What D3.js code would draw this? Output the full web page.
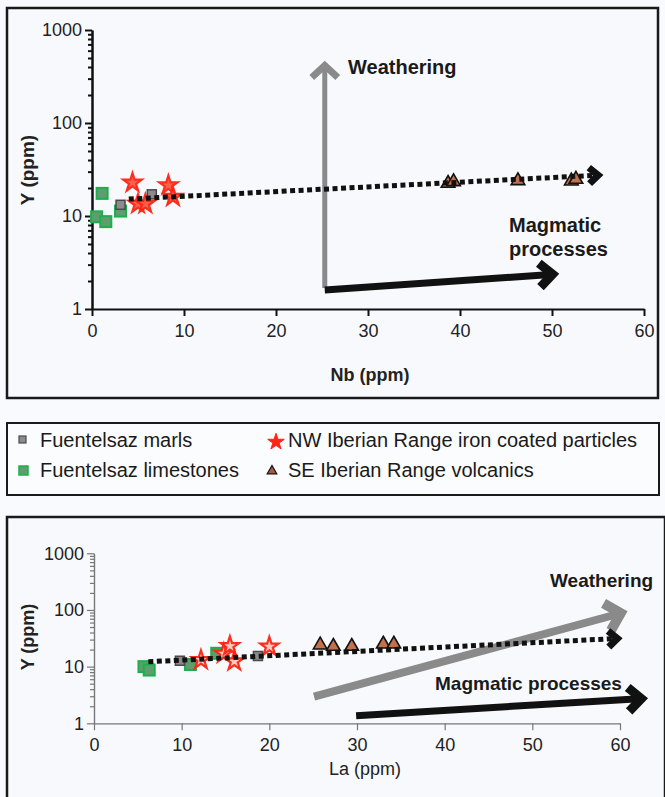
<!DOCTYPE html>
<html>
<head>
<meta charset="utf-8">
<script src="https://cdn.jsdelivr.net/npm/d3@7"></script>
<style>
  body { margin: 0; background: #f9fafd; }
  svg { display: block; font-family: "Liberation Sans", Arial, sans-serif; }
</style>
</head>
<body>
<svg id="chart" width="665" height="797"></svg>
<script>
// ---- data: Nb vs Y (top panel)
var nbMarlsX = [3.1, 6.5];
var nbMarlsY = [13.2, 17.1];
var nbLimeX = [0.5, 1.1, 1.5, 3.1];
var nbLimeY = [9.8, 17.5, 8.7, 11.3];
var nbStarX = [4.4, 5.0, 5.8, 8.3, 8.8];
var nbStarY = [22.8, 13.5, 13.5, 21.4, 16.1];
var nbVolcX = [38.7, 39.3, 46.3, 52.1, 52.6];
var nbVolcY = [21.9, 22.8, 23.4, 23.2, 24.2];

// ---- data: La vs Y (bottom panel)
var laMarlsX = [9.8, 18.7];
var laMarlsY = [12.7, 15.4];
var laLimeX = [5.7, 6.3, 11.0, 14.0];
var laLimeY = [10.0, 8.7, 10.9, 17.2];
var laStarX = [12.2, 14.8, 15.5, 16.0, 20.0];
var laStarY = [13.1, 17.0, 23.1, 12.4, 22.6];
var laVolcX = [25.8, 27.3, 29.4, 33.0, 34.2];
var laVolcY = [23.1, 21.9, 21.9, 24.0, 24.0];

// trend / process arrows, [x0, y0, x1, y1] in data units
var nbTrend = [4.0, 15.2, 55.4, 27.6];
var nbWeather = [25.3, 1.68, 25.3, 453];
var nbMagma = [25.3, 1.6, 50.6, 2.38];
var laTrend = [6.2, 12.2, 60.1, 31.6];
var laWeather = [25.1, 2.95, 60.7, 93];
var laMagma = [29.9, 1.36, 63, 2.76];

var xTicks = [0, 10, 20, 30, 40, 50, 60];
var yTicks = [1, 10, 100, 1000];
var legendNames = ["Fuentelsaz marls", "NW Iberian Range iron coated particles",
                   "Fuentelsaz limestones", "SE Iberian Range volcanics"];

var svg = d3.select("#chart");

function zip(xs, ys) { return xs.map(function(v, i) { return [v, ys[i]]; }); }

var minorTicks = [];
[1, 10, 100].forEach(function(dec) {
  for (var k = 2; k <= 9; k++) minorTicks.push(dec * k);
});

function arrow(g, x, y, a, color, w, hl, hw, dash) {
  var p0 = [x(a[0]), y(a[1])], p1 = [x(a[2]), y(a[3])];
  var dx = p1[0] - p0[0], dy = p1[1] - p0[1], len = Math.sqrt(dx*dx + dy*dy);
  var ux = dx / len, uy = dy / len, nx = -uy, ny = ux;
  var tip = [p1[0] - ux * w * 0.7, p1[1] - uy * w * 0.7];
  g.append("line")
    .attr("x1", p0[0]).attr("y1", p0[1])
    .attr("x2", tip[0] - ux * 2).attr("y2", tip[1] - uy * 2)
    .attr("stroke", color).attr("stroke-width", w)
    .attr("stroke-dasharray", dash || null);
  g.append("path")
    .attr("d", "M" + (tip[0] - ux*hl + nx*hw) + "," + (tip[1] - uy*hl + ny*hw) +
               "L" + tip[0] + "," + tip[1] +
               "L" + (tip[0] - ux*hl - nx*hw) + "," + (tip[1] - uy*hl - ny*hw))
    .attr("fill", "none").attr("stroke", color)
    .attr("stroke-width", w + 2).attr("stroke-linejoin", "miter").attr("stroke-miterlimit", 10);
}

function points(g, x, y, d) {
  g.selectAll(".lime").data(zip(d.limeX, d.limeY)).join("rect")
    .attr("x", function(p) { return x(p[0]) - 5.5; })
    .attr("y", function(p) { return y(p[1]) - 5.5; })
    .attr("width", 11).attr("height", 11)
    .attr("fill", "#5f9d6e").attr("stroke", "#1cb04c").attr("stroke-width", 2);
  g.selectAll(".marl").data(zip(d.marlX, d.marlY)).join("rect")
    .attr("x", function(p) { return x(p[0]) - 4.5; })
    .attr("y", function(p) { return y(p[1]) - 4.5; })
    .attr("width", 9).attr("height", 9)
    .attr("fill", "#8c8c8c").attr("stroke", "#4a4a4a").attr("stroke-width", 1.5);
  g.selectAll(".star").data(zip(d.starX, d.starY)).join("path")
    .attr("d", d3.symbol(d3.symbolStar, 105))
    .attr("transform", function(p) { return "translate(" + x(p[0]) + "," + y(p[1]) + ")"; })
    .attr("fill", d.starFill).attr("stroke", "#ff2414").attr("stroke-width", 2.2).attr("opacity", 0.95);
  g.selectAll(".volc").data(zip(d.volcX, d.volcY)).join("path")
    .attr("d", d3.symbol(d3.symbolTriangle, 80))
    .attr("transform", function(p) { return "translate(" + x(p[0]) + "," + (y(p[1]) - 1) + ")"; })
    .attr("fill", "#c2704e").attr("stroke", "#111").attr("stroke-width", 1.6);
}

function panel(opt) {
  var x = d3.scaleLinear().domain([0, 60]).range(opt.xr);
  var y = d3.scaleLog().domain([1, 1000]).range(opt.yr);
  var g = svg.append("g");

  g.append("rect").attr("x", opt.box[0]).attr("y", opt.box[1])
    .attr("width", opt.box[2]).attr("height", opt.box[3])
    .attr("fill", "#f8f9fd").attr("stroke", "#1a1a1a").attr("stroke-width", 2.5);

  var ax = g.append("g").attr("transform", "translate(0," + opt.yr[0] + ")")
    .call(d3.axisBottom(x).tickValues(xTicks).tickSize(7).tickSizeOuter(0).tickPadding(8));
  var ay = g.append("g").attr("transform", "translate(" + opt.xr[0] + ",0)")
    .call(d3.axisLeft(y).tickValues(yTicks).tickFormat(d3.format("d")).tickSize(7).tickSizeOuter(0).tickPadding(3));
  var am = g.append("g").attr("transform", "translate(" + opt.xr[0] + ",0)")
    .call(d3.axisLeft(y).tickValues(minorTicks).tickFormat("").tickSize(4).tickSizeOuter(0));
  [ax, ay, am].forEach(function(a) {
    a.selectAll("path, line").attr("stroke", opt.axisColor).attr("stroke-width", opt.axisW);
    a.selectAll("text").attr("fill", "#222").style("font-size", "18px").style("font-family", "Liberation Sans, Arial, sans-serif");
  });

  g.append("text").attr("x", opt.xlab[0]).attr("y", opt.xlab[1])
    .attr("text-anchor", "middle").attr("font-size", 18)
    .attr("font-weight", opt.xlabBold ? "bold" : "normal").attr("fill", "#222")
    .text(opt.xlabel);
  g.append("text")
    .attr("transform", "translate(" + opt.ylab[0] + "," + opt.ylab[1] + ") rotate(-90)")
    .attr("text-anchor", "middle").attr("font-size", opt.ylabSize)
    .attr("font-weight", "bold").attr("fill", "#222").text("Y (ppm)");

  // process arrows drawn under the data
  arrow(g, x, y, opt.weather, "#8a8a8a", opt.wW, opt.wHl, opt.wHw);
  arrow(g, x, y, opt.magma, "#111", 7, 13, 12);

  points(g, x, y, opt.data);

  arrow(g, x, y, opt.trend, "#111", 5, 9, 8, "5,3.5");

  opt.wLabel.forEach(function(t) {
    g.append("text").attr("x", t[0]).attr("y", t[1]).attr("font-size", opt.labSize)
      .attr("font-weight", "bold").attr("fill", "#1a1a1a").text(t[2]);
  });
  return g;
}

panel({
  xr: [92, 644], yr: [309, 30], box: [7, 8, 651, 390],
  axisColor: "#111", axisW: 2,
  xlabel: "Nb (ppm)", xlab: [370, 381], xlabBold: true,
  ylab: [34, 170], ylabSize: 19,
  weather: nbWeather, magma: nbMagma, trend: nbTrend,
  wW: 5, wHl: 12, wHw: 13, labSize: 20,
  wLabel: [[348, 74, "Weathering"], [509, 232, "Magmatic"], [509, 256, "processes"]],
  data: { marlX: nbMarlsX, marlY: nbMarlsY, limeX: nbLimeX, limeY: nbLimeY,
          starX: nbStarX, starY: nbStarY, volcX: nbVolcX, volcY: nbVolcY, starFill: "#ff5a44" }
});

panel({
  xr: [94, 620], yr: [723.3, 553.3], box: [7, 517, 658, 300],
  axisColor: "#777", axisW: 1.2,
  xlabel: "La (ppm)", xlab: [365, 775], xlabBold: false,
  ylab: [34, 637], ylabSize: 18,
  weather: laWeather, magma: laMagma, trend: laTrend,
  wW: 8, wHl: 14, wHw: 14, labSize: 19,
  wLabel: [[550, 587, "Weathering"], [435, 690, "Magmatic processes"]],
  data: { marlX: laMarlsX, marlY: laMarlsY, limeX: laLimeX, limeY: laLimeY,
          starX: laStarX, starY: laStarY, volcX: laVolcX, volcY: laVolcY, starFill: "#ffc8bc" }
});

// ---- legend
var lg = svg.append("g");
lg.append("rect").attr("x", 7).attr("y", 423).attr("width", 652).attr("height", 72)
  .attr("fill", "#fbfcfe").attr("stroke", "#1a1a1a").attr("stroke-width", 2);
var lgX = [40, 288, 40, 288], lgY = [447, 447, 477, 477];
legendNames.forEach(function(n, i) {
  lg.append("text").attr("x", lgX[i]).attr("y", lgY[i]).attr("font-size", 20)
    .attr("fill", "#1a1a1a").text(n);
});
lg.append("rect").attr("x", 19).attr("y", 436).attr("width", 7).attr("height", 7)
  .attr("fill", "#8c8c8c").attr("stroke", "#4a4a4a").attr("stroke-width", 1.2);
lg.append("rect").attr("x", 19).attr("y", 466).attr("width", 9).attr("height", 9)
  .attr("fill", "#5f9d6e").attr("stroke", "#1cb04c").attr("stroke-width", 1.5);
lg.append("path").attr("d", d3.symbol(d3.symbolStar, 85))
  .attr("transform", "translate(276,442)").attr("fill", "#ff2414").attr("stroke", "#ff2414");
lg.append("path").attr("d", d3.symbol(d3.symbolTriangle, 40))
  .attr("transform", "translate(272,471)").attr("fill", "#a85a3e").attr("stroke", "#111").attr("stroke-width", 1.2);
</script>
</body>
</html>
